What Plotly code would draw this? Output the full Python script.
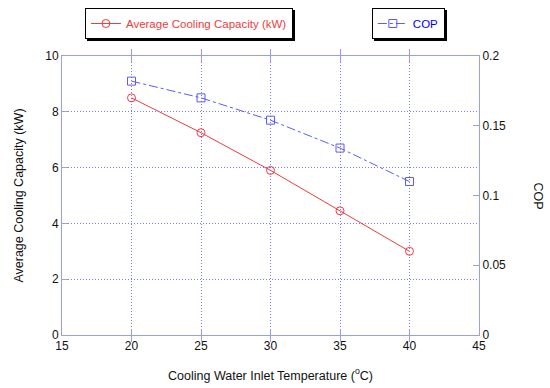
import plotly.graph_objects as go

temps = [20, 25, 30, 35, 40]
cooling_capacity = [8.5, 7.25, 5.9, 4.45, 3.0]
cop = [0.182, 0.170, 0.154, 0.134, 0.110]

x_ticks = [15, 20, 25, 30, 35, 40, 45]
y1_ticks = [0, 2, 4, 6, 8, 10]
y2_ticks = [0, 0.05, 0.1, 0.15, 0.2]
y2_labels = ["0", "0.05", "0.1", "0.15", "0.2"]

RED = "#f03c3c"
BLUE = "#5a5aff"
AXIS = "#9a9aff"
GRID = "#7a7aff"
FONT = "Liberation Sans, Arial, sans-serif"

name1 = "Average Cooling Capacity (kW)"
name2 = "COP"

fig = go.Figure()
# legend drop-shadows (legend-only copies placed in black-backed legends)
fig.add_trace(go.Scatter(x=temps, y=cooling_capacity, name=name1,
                         visible="legendonly", legend="legend2",
                         line=dict(color="black")))
fig.add_trace(go.Scatter(x=temps, y=cop, name=name2, yaxis="y2",
                         visible="legendonly", legend="legend3",
                         line=dict(color="black")))

fig.add_trace(go.Scatter(
    x=temps, y=cooling_capacity, name=name1,
    mode="lines+markers",
    line=dict(color=RED, width=1),
    marker=dict(symbol="circle-open", size=8, color=RED, line=dict(width=1)),
    legend="legend4",
))
fig.add_trace(go.Scatter(
    x=temps, y=cop, name=name2, yaxis="y2",
    mode="lines+markers",
    line=dict(color=BLUE, width=1, dash="dashdot"),
    marker=dict(symbol="square-open", size=8, color=BLUE, line=dict(width=1)),
    legend="legend5",
))

axis_common = dict(
    showline=True, linecolor=AXIS, linewidth=1, automargin=False,
    ticks="inside", ticklen=6, tickcolor=AXIS,
    zeroline=False, tickfont=dict(family=FONT, size=12, color="#111"),
)

LX1, LX2, LY = 0.055, 0.743, 1.172
DX, DY = 2 / 417, 2 / 279
LFS = 11.5
leg_common = dict(xanchor="left", yanchor="top", borderwidth=1,
                  bordercolor="black")

fig.update_layout(
    width=550, height=388,
    margin=dict(l=62, r=71, t=56, b=53, autoexpand=False),
    paper_bgcolor="white", plot_bgcolor="white",
    font=dict(family=FONT, size=12, color="#111"),
    showlegend=True,
    xaxis=dict(
        range=[15, 45], tickvals=x_ticks, mirror="allticks",
        showgrid=True, gridcolor=GRID, griddash="1px,2px", gridwidth=1,
        title=dict(text="Cooling Water Inlet Temperature (<sup>o</sup>C)",
                   font=dict(family=FONT, size=12.5), standoff=18),
        **axis_common,
    ),
    yaxis=dict(
        range=[0, 10], tickvals=y1_ticks, mirror=False,
        showgrid=True, gridcolor=GRID, griddash="1px,2px", gridwidth=1,
        title=dict(text="Average Cooling Capacity (kW)",
                   font=dict(family=FONT, size=12.5), standoff=18),
        **axis_common,
    ),
    yaxis2=dict(
        range=[0, 0.2], tickvals=y2_ticks, ticktext=y2_labels,
        overlaying="y", side="right", showgrid=False,
        **axis_common,
    ),
    legend2=dict(x=LX1 + DX, y=LY - DY, bgcolor="black",
                 font=dict(family=FONT, size=LFS, color="black"), **leg_common),
    legend3=dict(x=LX2 + DX, y=LY - DY, bgcolor="black",
                 font=dict(family=FONT, size=LFS, color="black"), **leg_common),
    legend4=dict(x=LX1, y=LY, bgcolor="white",
                 font=dict(family=FONT, size=LFS, color=RED), **leg_common),
    legend5=dict(x=LX2, y=LY, bgcolor="white",
                 font=dict(family=FONT, size=LFS, color="blue"), **leg_common),
    annotations=[dict(
        text="COP", textangle=90, xref="paper", yref="paper",
        x=1.1415, y=0.5, xanchor="center", showarrow=False,
        font=dict(family=FONT, size=12.5, color="#111"),
    )],
)

fig.write_html("out.html", post_script="document.body.style.margin='0';",
               config={"displayModeBar": False})
